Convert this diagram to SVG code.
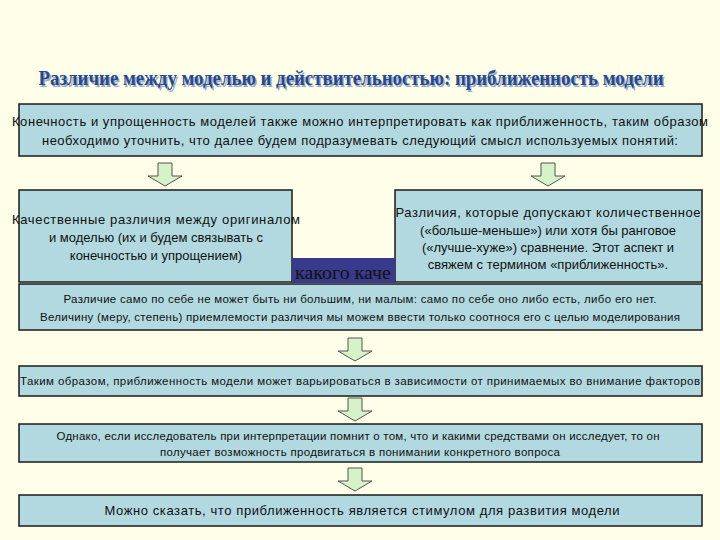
<svg xmlns="http://www.w3.org/2000/svg" width="720" height="540" viewBox="0 0 720 540">
<style>
.b{fill:#b2d9e0;stroke:#1a1a1a;stroke-width:1.5}
.t{font-family:"Liberation Sans",Arial,sans-serif;fill:#111;text-anchor:middle}
.a{fill:#d6f2c8;stroke:#555;stroke-width:1}
.h{font-family:"Liberation Serif",serif;font-weight:bold;font-size:22px;text-anchor:middle}
</style>
<defs><path id="ar" class="a" d="M-7,0 H7 V13 H17 L0,23 L-17,13 H-7 Z"/></defs>
<rect width="720" height="540" fill="#fefee9"/>
<text x="351" y="85" class="h" fill="#9aaac8" textLength="625" lengthAdjust="spacingAndGlyphs" transform="translate(1.5,1.5)">Различие между моделью и действительностью: приближенность модели</text>
<text x="351" y="85" class="h" fill="#27488a" textLength="625" lengthAdjust="spacingAndGlyphs">Различие между моделью и действительностью: приближенность модели</text>
<g id="n1"><rect class="b" x="19" y="104" width="683" height="52"/>
<text class="t" font-size="13" lengthAdjust="spacingAndGlyphs"><tspan x="360" y="126" textLength="696">Конечность и упрощенность моделей также можно интерпретировать как приближенность, таким образом</tspan></text>
<text class="t" font-size="13"><tspan x="360" y="145" textLength="636">необходимо уточнить, что далее будем подразумевать следующий смысл используемых понятий:</tspan></text></g>
<g id="connectors">
<use href="#ar" x="165" y="163"/>
<use href="#ar" x="548" y="163"/>
<use href="#ar" x="355" y="338"/>
<use href="#ar" x="355" y="398"/>
<use href="#ar" x="355" y="468"/>
</g>
<g id="n2"><rect class="b" x="19" y="190" width="273" height="92"/>
<text class="t" font-size="13"><tspan x="156" y="224" textLength="288">Качественные различия между оригиналом</tspan><tspan x="156" y="242">и моделью (их и будем связывать с</tspan><tspan x="156" y="260">конечностью и упрощением)</tspan></text></g>
<g id="n3"><rect class="b" x="395" y="190" width="307" height="92"/>
<text class="t" font-size="13"><tspan x="548" y="217" textLength="305">Различия, которые допускают количественное</tspan><tspan x="548" y="235">(«больше-меньше») или хотя бы ранговое</tspan><tspan x="548" y="252">(«лучше-хуже») сравнение. Этот аспект и</tspan><tspan x="548" y="269">свяжем с термином «приближенность».</tspan></text></g>
<g id="n8"><rect x="292" y="258" width="103" height="25" fill="#3a3a8c"/>
<text x="343" y="279" class="t" style="font-family:'Liberation Serif',serif;font-size:19px;fill:#111" textLength="96" lengthAdjust="spacingAndGlyphs">какого каче</text></g>
<g id="n4"><rect class="b" x="19" y="284" width="683" height="46"/>
<text class="t" font-size="11.5"><tspan x="360" y="303" textLength="593">Различие само по себе не может быть ни большим, ни малым: само по себе оно либо есть, либо его нет.</tspan><tspan x="360" y="321" textLength="640">Величину (меру, степень) приемлемости различия мы можем ввести только соотнося его с целью моделирования</tspan></text></g>
<g id="n5"><rect class="b" x="19" y="366" width="683" height="30"/>
<text class="t" font-size="11.5" x="360" y="385" textLength="680">Таким образом, приближенность модели может варьироваться в зависимости от принимаемых во внимание факторов</text></g>
<g id="n6"><rect class="b" x="19" y="424" width="683" height="38"/>
<text class="t" font-size="11.5"><tspan x="358" y="440" textLength="603">Однако, если исследователь при интерпретации помнит о том, что и какими средствами он исследует, то он</tspan><tspan x="360" y="456" textLength="400">получает возможность продвигаться в понимании конкретного вопроса</tspan></text></g>
<g id="n7"><rect class="b" x="19" y="495" width="683" height="31"/>
<text class="t" font-size="13" x="362" y="515" textLength="515">Можно сказать, что приближенность является стимулом для развития модели</text></g>
</svg>
